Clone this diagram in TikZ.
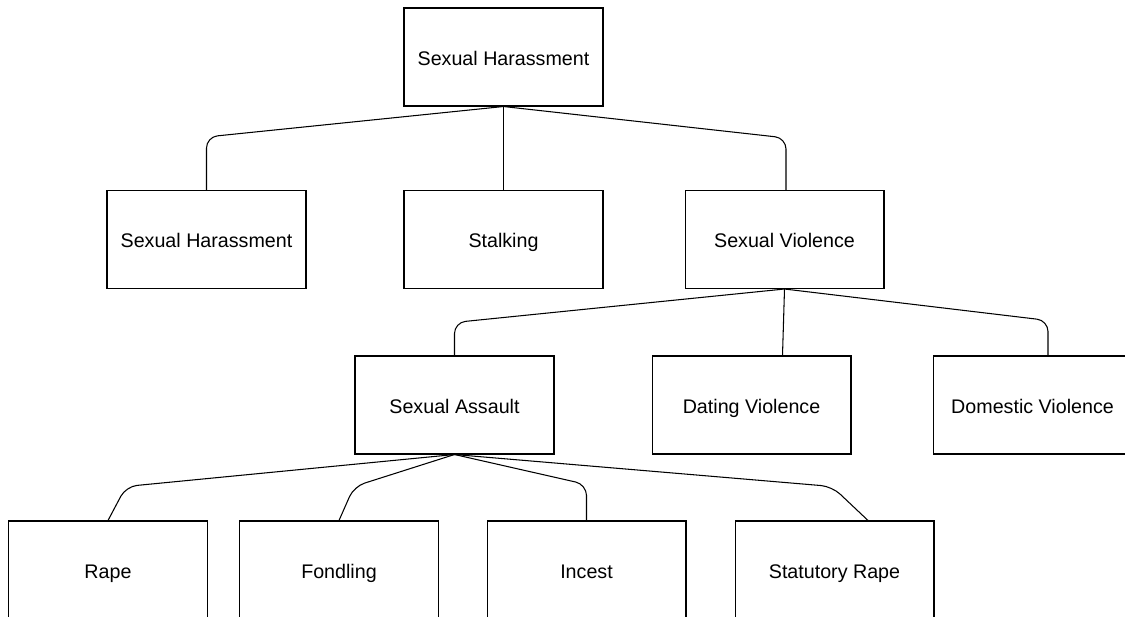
\documentclass[tikz,border=0pt]{standalone}
\usepackage{fontspec}
\setmainfont{Liberation Sans}
\usetikzlibrary{calc}

\begin{document}
\begin{tikzpicture}[x=0.02cm, y=-0.02cm,
  box/.style={draw, line width=0.6pt, minimum width=3.98cm, minimum height=1.96cm, inner sep=0pt, text height=9.6pt, text depth=0.4pt, font=\fontsize{11.2}{13}\selectfont},
  link/.style={draw, line width=0.6pt, rounded corners=0.22cm}]
\useasboundingbox (0,0) rectangle (1125,617);
\clip (0,0) rectangle (1125,617);
% top
\node[box] (top)    at (503.5,57)   {Sexual Harassment};
% second row
\node[box] (harass) at (206.5,239.5) {Sexual Harassment};
\node[box] (stalk)  at (503.5,239.5) {Stalking};
\node[box] (viol)   at (784.5,239.5) {Sexual Violence};
% third row
\node[box] (assault) at (454.5,405)  {Sexual Assault};
\node[box] (dating)  at (751.5,405)  {Dating Violence};
\node[box] (domest)  at (1032.5,405) {Domestic Violence};
% fourth row
\node[box] (rape)    at (108,570)    {Rape};
\node[box] (fondl)   at (339,570)    {Fondling};
\node[box] (incest)  at (586.5,570)  {Incest};
\node[box] (statut)  at (834.5,570)  {Statutory Rape};

\path[link] (top.south) -- ($(harass.north)+(0,-53)$) -- (harass.north);
\path[link] (top.south) -- (stalk.north);
\path[link] (top.south) -- ($(viol.north)+(1.5,-52)$) -- ($(viol.north)+(1.5,0)$);

\path[link] (viol.south) -- ($(assault.north)+(0,-33)$) -- (assault.north);
\path[link] (viol.south) -- ($(dating.north)+(31,0)$);
\path[link] (viol.south) -- ($(domest.north)+(15.5,-35)$) -- ($(domest.north)+(15.5,0)$);

\path[link] (assault.south) -- ($(rape.north)+(18,-34)$) -- (rape.north);
\path[link] (assault.south) -- ($(fondl.north)+(15,-34)$) -- (fondl.north);
\path[link] (assault.south) -- ($(incest.north)+(0,-36)$) -- (incest.north);
\path[link] (assault.south) -- ($(statut.north)+(-2.5,-34)$) -- ($(statut.north)+(33.5,0)$);
\end{tikzpicture}
\end{document}
